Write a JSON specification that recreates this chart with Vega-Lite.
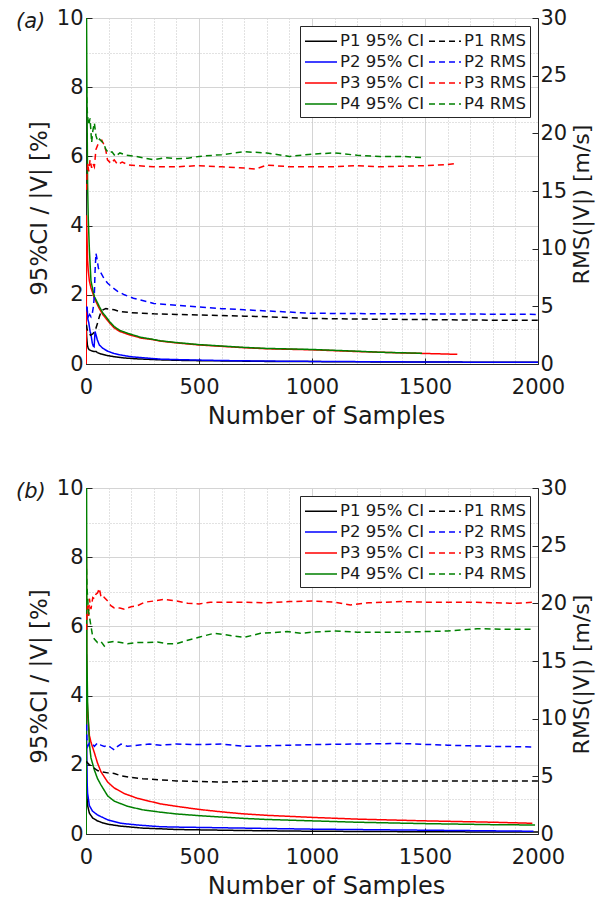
{
"$schema": "https://vega.github.io/schema/vega-lite/v6.json",
"padding": {"left": 15, "top": 6, "right": 2, "bottom": 0},
"config": {
  "font": "DejaVu Sans",
  "view": {"stroke": "#262626", "strokeWidth": 1},
  "axis": {"labelFont": "DejaVu Sans", "titleFont": "DejaVu Sans", "labelFontSize": 21, "titleFontSize": 24, "titleFontWeight": "normal", "labelColor": "#1a1a1a", "titleColor": "#1a1a1a", "domainColor": "#262626", "tickColor": "#262626", "tickSize": -6, "labelOverlap": false, "labelBound": false, "labelFlush": false},
  "legend": {"orient": "top-right", "direction": "horizontal", "columns": 2, "offset": 8, "padding": 4, "strokeColor": "#262626", "fillColor": "#ffffff", "symbolType": "M-1,0H2.2", "symbolSize": 400, "symbolStrokeWidth": 1.5, "labelFont": "DejaVu Sans", "labelFontSize": 16.5, "labelColor": "#1a1a1a", "labelOffset": 14, "columnPadding": 2, "rowPadding": 1, "title": null},
  "line": {"strokeWidth": 1.5, "clip": true}
},
"datasets": {"d": [
{"p":"a","s":"P1 95% CI","n":1,"v":1.15},{"p":"a","s":"P1 95% CI","n":3,"v":0.8},{"p":"a","s":"P1 95% CI","n":6,"v":0.55},{"p":"a","s":"P1 95% CI","n":10,"v":0.45},{"p":"a","s":"P1 95% CI","n":15,"v":0.41},{"p":"a","s":"P1 95% CI","n":25,"v":0.38},{"p":"a","s":"P1 95% CI","n":37,"v":0.36},{"p":"a","s":"P1 95% CI","n":45,"v":0.36},{"p":"a","s":"P1 95% CI","n":50,"v":0.33},{"p":"a","s":"P1 95% CI","n":66,"v":0.29},{"p":"a","s":"P1 95% CI","n":90,"v":0.25},{"p":"a","s":"P1 95% CI","n":125,"v":0.21},{"p":"a","s":"P1 95% CI","n":160,"v":0.18},{"p":"a","s":"P1 95% CI","n":220,"v":0.15},{"p":"a","s":"P1 95% CI","n":330,"v":0.12},{"p":"a","s":"P1 95% CI","n":450,"v":0.1},{"p":"a","s":"P1 95% CI","n":600,"v":0.09},{"p":"a","s":"P1 95% CI","n":800,"v":0.075},{"p":"a","s":"P1 95% CI","n":1000,"v":0.07},{"p":"a","s":"P1 95% CI","n":1300,"v":0.06},{"p":"a","s":"P1 95% CI","n":1600,"v":0.055},{"p":"a","s":"P1 95% CI","n":2000,"v":0.05},
{"p":"a","s":"P2 95% CI","n":1,"v":1.7},{"p":"a","s":"P2 95% CI","n":3,"v":1.5},{"p":"a","s":"P2 95% CI","n":5,"v":1.65},{"p":"a","s":"P2 95% CI","n":8,"v":1.3},{"p":"a","s":"P2 95% CI","n":12,"v":1.2},{"p":"a","s":"P2 95% CI","n":18,"v":0.95},{"p":"a","s":"P2 95% CI","n":22,"v":0.85},{"p":"a","s":"P2 95% CI","n":28,"v":0.6},{"p":"a","s":"P2 95% CI","n":32,"v":0.52},{"p":"a","s":"P2 95% CI","n":36,"v":0.5},{"p":"a","s":"P2 95% CI","n":40,"v":0.94},{"p":"a","s":"P2 95% CI","n":44,"v":0.85},{"p":"a","s":"P2 95% CI","n":50,"v":0.7},{"p":"a","s":"P2 95% CI","n":59,"v":0.55},{"p":"a","s":"P2 95% CI","n":75,"v":0.45},{"p":"a","s":"P2 95% CI","n":96,"v":0.37},{"p":"a","s":"P2 95% CI","n":125,"v":0.3},{"p":"a","s":"P2 95% CI","n":154,"v":0.26},{"p":"a","s":"P2 95% CI","n":200,"v":0.21},{"p":"a","s":"P2 95% CI","n":272,"v":0.17},{"p":"a","s":"P2 95% CI","n":330,"v":0.14},{"p":"a","s":"P2 95% CI","n":450,"v":0.12},{"p":"a","s":"P2 95% CI","n":600,"v":0.1},{"p":"a","s":"P2 95% CI","n":800,"v":0.085},{"p":"a","s":"P2 95% CI","n":1000,"v":0.075},{"p":"a","s":"P2 95% CI","n":1300,"v":0.065},{"p":"a","s":"P2 95% CI","n":1600,"v":0.055},{"p":"a","s":"P2 95% CI","n":2000,"v":0.05},
{"p":"a","s":"P3 95% CI","n":1,"v":0},{"p":"a","s":"P3 95% CI","n":2,"v":4.3},{"p":"a","s":"P3 95% CI","n":4,"v":3.8},{"p":"a","s":"P3 95% CI","n":7,"v":3.0},{"p":"a","s":"P3 95% CI","n":10,"v":2.7},{"p":"a","s":"P3 95% CI","n":15,"v":2.4},{"p":"a","s":"P3 95% CI","n":22,"v":2.2},{"p":"a","s":"P3 95% CI","n":30,"v":2.05},{"p":"a","s":"P3 95% CI","n":37,"v":1.9},{"p":"a","s":"P3 95% CI","n":50,"v":1.72},{"p":"a","s":"P3 95% CI","n":59,"v":1.6},{"p":"a","s":"P3 95% CI","n":75,"v":1.42},{"p":"a","s":"P3 95% CI","n":88,"v":1.32},{"p":"a","s":"P3 95% CI","n":105,"v":1.18},{"p":"a","s":"P3 95% CI","n":125,"v":1.04},{"p":"a","s":"P3 95% CI","n":150,"v":0.94},{"p":"a","s":"P3 95% CI","n":184,"v":0.86},{"p":"a","s":"P3 95% CI","n":243,"v":0.75},{"p":"a","s":"P3 95% CI","n":290,"v":0.71},{"p":"a","s":"P3 95% CI","n":330,"v":0.66},{"p":"a","s":"P3 95% CI","n":400,"v":0.61},{"p":"a","s":"P3 95% CI","n":500,"v":0.55},{"p":"a","s":"P3 95% CI","n":600,"v":0.51},{"p":"a","s":"P3 95% CI","n":700,"v":0.47},{"p":"a","s":"P3 95% CI","n":800,"v":0.44},{"p":"a","s":"P3 95% CI","n":1000,"v":0.41},{"p":"a","s":"P3 95% CI","n":1200,"v":0.36},{"p":"a","s":"P3 95% CI","n":1400,"v":0.32},{"p":"a","s":"P3 95% CI","n":1643,"v":0.28},
{"p":"a","s":"P4 95% CI","n":1,"v":12},{"p":"a","s":"P4 95% CI","n":4,"v":8},{"p":"a","s":"P4 95% CI","n":7,"v":5.2},{"p":"a","s":"P4 95% CI","n":10,"v":4.2},{"p":"a","s":"P4 95% CI","n":15,"v":3.3},{"p":"a","s":"P4 95% CI","n":22,"v":2.4},{"p":"a","s":"P4 95% CI","n":30,"v":2.15},{"p":"a","s":"P4 95% CI","n":37,"v":1.95},{"p":"a","s":"P4 95% CI","n":50,"v":1.78},{"p":"a","s":"P4 95% CI","n":59,"v":1.66},{"p":"a","s":"P4 95% CI","n":75,"v":1.47},{"p":"a","s":"P4 95% CI","n":88,"v":1.37},{"p":"a","s":"P4 95% CI","n":105,"v":1.22},{"p":"a","s":"P4 95% CI","n":125,"v":1.08},{"p":"a","s":"P4 95% CI","n":150,"v":0.97},{"p":"a","s":"P4 95% CI","n":184,"v":0.89},{"p":"a","s":"P4 95% CI","n":243,"v":0.77},{"p":"a","s":"P4 95% CI","n":290,"v":0.72},{"p":"a","s":"P4 95% CI","n":330,"v":0.67},{"p":"a","s":"P4 95% CI","n":400,"v":0.62},{"p":"a","s":"P4 95% CI","n":500,"v":0.56},{"p":"a","s":"P4 95% CI","n":600,"v":0.52},{"p":"a","s":"P4 95% CI","n":700,"v":0.48},{"p":"a","s":"P4 95% CI","n":800,"v":0.45},{"p":"a","s":"P4 95% CI","n":1000,"v":0.42},{"p":"a","s":"P4 95% CI","n":1200,"v":0.37},{"p":"a","s":"P4 95% CI","n":1300,"v":0.34},{"p":"a","s":"P4 95% CI","n":1487,"v":0.31},
{"p":"a","s":"P1 RMS","n":2,"v":3.4},{"p":"a","s":"P1 RMS","n":5,"v":3.0},{"p":"a","s":"P1 RMS","n":10,"v":2.8},{"p":"a","s":"P1 RMS","n":20,"v":2.5},{"p":"a","s":"P1 RMS","n":30,"v":2.6},{"p":"a","s":"P1 RMS","n":37,"v":2.8},{"p":"a","s":"P1 RMS","n":44,"v":3.1},{"p":"a","s":"P1 RMS","n":52,"v":3.6},{"p":"a","s":"P1 RMS","n":59,"v":4.1},{"p":"a","s":"P1 RMS","n":66,"v":4.5},{"p":"a","s":"P1 RMS","n":75,"v":4.7},{"p":"a","s":"P1 RMS","n":88,"v":4.8},{"p":"a","s":"P1 RMS","n":110,"v":4.75},{"p":"a","s":"P1 RMS","n":125,"v":4.7},{"p":"a","s":"P1 RMS","n":150,"v":4.55},{"p":"a","s":"P1 RMS","n":200,"v":4.45},{"p":"a","s":"P1 RMS","n":250,"v":4.4},{"p":"a","s":"P1 RMS","n":300,"v":4.35},{"p":"a","s":"P1 RMS","n":400,"v":4.3},{"p":"a","s":"P1 RMS","n":500,"v":4.25},{"p":"a","s":"P1 RMS","n":600,"v":4.2},{"p":"a","s":"P1 RMS","n":700,"v":4.15},{"p":"a","s":"P1 RMS","n":800,"v":4.1},{"p":"a","s":"P1 RMS","n":1000,"v":3.95},{"p":"a","s":"P1 RMS","n":1200,"v":3.9},{"p":"a","s":"P1 RMS","n":1500,"v":3.85},{"p":"a","s":"P1 RMS","n":1800,"v":3.8},{"p":"a","s":"P1 RMS","n":2000,"v":3.8},
{"p":"a","s":"P2 RMS","n":2,"v":5.0},{"p":"a","s":"P2 RMS","n":5,"v":4.6},{"p":"a","s":"P2 RMS","n":10,"v":4.1},{"p":"a","s":"P2 RMS","n":16,"v":4.3},{"p":"a","s":"P2 RMS","n":22,"v":4.1},{"p":"a","s":"P2 RMS","n":28,"v":4.4},{"p":"a","s":"P2 RMS","n":33,"v":5.0},{"p":"a","s":"P2 RMS","n":37,"v":6.0},{"p":"a","s":"P2 RMS","n":40,"v":8.0},{"p":"a","s":"P2 RMS","n":44,"v":9.6},{"p":"a","s":"P2 RMS","n":48,"v":9.2},{"p":"a","s":"P2 RMS","n":55,"v":8.3},{"p":"a","s":"P2 RMS","n":66,"v":7.9},{"p":"a","s":"P2 RMS","n":80,"v":7.4},{"p":"a","s":"P2 RMS","n":96,"v":7.0},{"p":"a","s":"P2 RMS","n":120,"v":6.6},{"p":"a","s":"P2 RMS","n":140,"v":6.3},{"p":"a","s":"P2 RMS","n":170,"v":6.0},{"p":"a","s":"P2 RMS","n":210,"v":5.7},{"p":"a","s":"P2 RMS","n":250,"v":5.5},{"p":"a","s":"P2 RMS","n":300,"v":5.25},{"p":"a","s":"P2 RMS","n":400,"v":5.1},{"p":"a","s":"P2 RMS","n":500,"v":4.95},{"p":"a","s":"P2 RMS","n":600,"v":4.8},{"p":"a","s":"P2 RMS","n":700,"v":4.7},{"p":"a","s":"P2 RMS","n":850,"v":4.55},{"p":"a","s":"P2 RMS","n":1000,"v":4.4},{"p":"a","s":"P2 RMS","n":1200,"v":4.37},{"p":"a","s":"P2 RMS","n":1500,"v":4.35},{"p":"a","s":"P2 RMS","n":1800,"v":4.32},{"p":"a","s":"P2 RMS","n":2000,"v":4.3},
{"p":"a","s":"P3 RMS","n":2,"v":15.1},{"p":"a","s":"P3 RMS","n":5,"v":16.5},{"p":"a","s":"P3 RMS","n":8,"v":17.4},{"p":"a","s":"P3 RMS","n":12,"v":16.7},{"p":"a","s":"P3 RMS","n":18,"v":17.7},{"p":"a","s":"P3 RMS","n":25,"v":17.0},{"p":"a","s":"P3 RMS","n":30,"v":17.4},{"p":"a","s":"P3 RMS","n":37,"v":17.1},{"p":"a","s":"P3 RMS","n":44,"v":18.6},{"p":"a","s":"P3 RMS","n":52,"v":19.0},{"p":"a","s":"P3 RMS","n":60,"v":19.2},{"p":"a","s":"P3 RMS","n":70,"v":19.4},{"p":"a","s":"P3 RMS","n":80,"v":19.0},{"p":"a","s":"P3 RMS","n":88,"v":18.5},{"p":"a","s":"P3 RMS","n":95,"v":17.7},{"p":"a","s":"P3 RMS","n":110,"v":17.4},{"p":"a","s":"P3 RMS","n":125,"v":17.7},{"p":"a","s":"P3 RMS","n":140,"v":17.3},{"p":"a","s":"P3 RMS","n":160,"v":17.5},{"p":"a","s":"P3 RMS","n":190,"v":17.25},{"p":"a","s":"P3 RMS","n":230,"v":17.2},{"p":"a","s":"P3 RMS","n":300,"v":17.1},{"p":"a","s":"P3 RMS","n":400,"v":17.1},{"p":"a","s":"P3 RMS","n":500,"v":17.2},{"p":"a","s":"P3 RMS","n":600,"v":17.1},{"p":"a","s":"P3 RMS","n":700,"v":17.0},{"p":"a","s":"P3 RMS","n":750,"v":16.9},{"p":"a","s":"P3 RMS","n":800,"v":17.25},{"p":"a","s":"P3 RMS","n":900,"v":17.1},{"p":"a","s":"P3 RMS","n":1000,"v":17.1},{"p":"a","s":"P3 RMS","n":1100,"v":17.1},{"p":"a","s":"P3 RMS","n":1200,"v":17.2},{"p":"a","s":"P3 RMS","n":1300,"v":17.1},{"p":"a","s":"P3 RMS","n":1400,"v":17.15},{"p":"a","s":"P3 RMS","n":1500,"v":17.2},{"p":"a","s":"P3 RMS","n":1600,"v":17.3},{"p":"a","s":"P3 RMS","n":1643,"v":17.4},
{"p":"a","s":"P4 RMS","n":2,"v":24.0},{"p":"a","s":"P4 RMS","n":4,"v":22.5},{"p":"a","s":"P4 RMS","n":7,"v":21.5},{"p":"a","s":"P4 RMS","n":12,"v":20.7},{"p":"a","s":"P4 RMS","n":18,"v":21.3},{"p":"a","s":"P4 RMS","n":25,"v":19.2},{"p":"a","s":"P4 RMS","n":30,"v":20.2},{"p":"a","s":"P4 RMS","n":37,"v":20.9},{"p":"a","s":"P4 RMS","n":44,"v":19.8},{"p":"a","s":"P4 RMS","n":52,"v":19.3},{"p":"a","s":"P4 RMS","n":60,"v":19.5},{"p":"a","s":"P4 RMS","n":70,"v":19.3},{"p":"a","s":"P4 RMS","n":80,"v":19.0},{"p":"a","s":"P4 RMS","n":88,"v":18.6},{"p":"a","s":"P4 RMS","n":100,"v":18.3},{"p":"a","s":"P4 RMS","n":115,"v":18.4},{"p":"a","s":"P4 RMS","n":130,"v":18.0},{"p":"a","s":"P4 RMS","n":150,"v":18.3},{"p":"a","s":"P4 RMS","n":180,"v":18.1},{"p":"a","s":"P4 RMS","n":220,"v":18.0},{"p":"a","s":"P4 RMS","n":300,"v":17.7},{"p":"a","s":"P4 RMS","n":350,"v":17.9},{"p":"a","s":"P4 RMS","n":400,"v":17.8},{"p":"a","s":"P4 RMS","n":450,"v":17.85},{"p":"a","s":"P4 RMS","n":500,"v":18.0},{"p":"a","s":"P4 RMS","n":600,"v":18.15},{"p":"a","s":"P4 RMS","n":700,"v":18.4},{"p":"a","s":"P4 RMS","n":800,"v":18.3},{"p":"a","s":"P4 RMS","n":900,"v":18.0},{"p":"a","s":"P4 RMS","n":1000,"v":18.2},{"p":"a","s":"P4 RMS","n":1100,"v":18.3},{"p":"a","s":"P4 RMS","n":1200,"v":18.1},{"p":"a","s":"P4 RMS","n":1300,"v":18.0},{"p":"a","s":"P4 RMS","n":1400,"v":18.0},{"p":"a","s":"P4 RMS","n":1487,"v":17.9},
{"p":"b","s":"P1 95% CI","n":1,"v":0},{"p":"b","s":"P1 95% CI","n":2,"v":2.5},{"p":"b","s":"P1 95% CI","n":3,"v":1.4},{"p":"b","s":"P1 95% CI","n":5,"v":1.0},{"p":"b","s":"P1 95% CI","n":8,"v":0.8},{"p":"b","s":"P1 95% CI","n":15,"v":0.6},{"p":"b","s":"P1 95% CI","n":30,"v":0.46},{"p":"b","s":"P1 95% CI","n":50,"v":0.38},{"p":"b","s":"P1 95% CI","n":75,"v":0.32},{"p":"b","s":"P1 95% CI","n":100,"v":0.28},{"p":"b","s":"P1 95% CI","n":150,"v":0.23},{"p":"b","s":"P1 95% CI","n":250,"v":0.17},{"p":"b","s":"P1 95% CI","n":330,"v":0.15},{"p":"b","s":"P1 95% CI","n":400,"v":0.13},{"p":"b","s":"P1 95% CI","n":500,"v":0.12},{"p":"b","s":"P1 95% CI","n":700,"v":0.1},{"p":"b","s":"P1 95% CI","n":1000,"v":0.08},{"p":"b","s":"P1 95% CI","n":1500,"v":0.065},{"p":"b","s":"P1 95% CI","n":2000,"v":0.055},
{"p":"b","s":"P2 95% CI","n":1,"v":0},{"p":"b","s":"P2 95% CI","n":2,"v":5.2},{"p":"b","s":"P2 95% CI","n":3,"v":2.3},{"p":"b","s":"P2 95% CI","n":5,"v":1.5},{"p":"b","s":"P2 95% CI","n":7,"v":1.18},{"p":"b","s":"P2 95% CI","n":15,"v":0.82},{"p":"b","s":"P2 95% CI","n":29,"v":0.66},{"p":"b","s":"P2 95% CI","n":51,"v":0.55},{"p":"b","s":"P2 95% CI","n":96,"v":0.41},{"p":"b","s":"P2 95% CI","n":154,"v":0.31},{"p":"b","s":"P2 95% CI","n":228,"v":0.26},{"p":"b","s":"P2 95% CI","n":330,"v":0.21},{"p":"b","s":"P2 95% CI","n":400,"v":0.2},{"p":"b","s":"P2 95% CI","n":500,"v":0.19},{"p":"b","s":"P2 95% CI","n":700,"v":0.17},{"p":"b","s":"P2 95% CI","n":1000,"v":0.14},{"p":"b","s":"P2 95% CI","n":1500,"v":0.11},{"p":"b","s":"P2 95% CI","n":1980,"v":0.08},
{"p":"b","s":"P3 95% CI","n":1,"v":0},{"p":"b","s":"P3 95% CI","n":2,"v":8.0},{"p":"b","s":"P3 95% CI","n":3,"v":5.2},{"p":"b","s":"P3 95% CI","n":5,"v":4.0},{"p":"b","s":"P3 95% CI","n":7,"v":3.5},{"p":"b","s":"P3 95% CI","n":15,"v":2.85},{"p":"b","s":"P3 95% CI","n":22,"v":2.65},{"p":"b","s":"P3 95% CI","n":37,"v":2.35},{"p":"b","s":"P3 95% CI","n":51,"v":2.05},{"p":"b","s":"P3 95% CI","n":66,"v":1.8},{"p":"b","s":"P3 95% CI","n":96,"v":1.5},{"p":"b","s":"P3 95% CI","n":125,"v":1.33},{"p":"b","s":"P3 95% CI","n":169,"v":1.17},{"p":"b","s":"P3 95% CI","n":228,"v":1.03},{"p":"b","s":"P3 95% CI","n":330,"v":0.87},{"p":"b","s":"P3 95% CI","n":400,"v":0.8},{"p":"b","s":"P3 95% CI","n":500,"v":0.71},{"p":"b","s":"P3 95% CI","n":600,"v":0.64},{"p":"b","s":"P3 95% CI","n":700,"v":0.58},{"p":"b","s":"P3 95% CI","n":800,"v":0.54},{"p":"b","s":"P3 95% CI","n":1000,"v":0.48},{"p":"b","s":"P3 95% CI","n":1200,"v":0.43},{"p":"b","s":"P3 95% CI","n":1500,"v":0.38},{"p":"b","s":"P3 95% CI","n":1800,"v":0.34},{"p":"b","s":"P3 95% CI","n":1975,"v":0.31},
{"p":"b","s":"P4 95% CI","n":1,"v":0},{"p":"b","s":"P4 95% CI","n":2,"v":12},{"p":"b","s":"P4 95% CI","n":4,"v":5.2},{"p":"b","s":"P4 95% CI","n":7,"v":3.8},{"p":"b","s":"P4 95% CI","n":15,"v":2.6},{"p":"b","s":"P4 95% CI","n":22,"v":2.2},{"p":"b","s":"P4 95% CI","n":37,"v":1.85},{"p":"b","s":"P4 95% CI","n":51,"v":1.6},{"p":"b","s":"P4 95% CI","n":66,"v":1.42},{"p":"b","s":"P4 95% CI","n":96,"v":1.1},{"p":"b","s":"P4 95% CI","n":125,"v":0.95},{"p":"b","s":"P4 95% CI","n":184,"v":0.8},{"p":"b","s":"P4 95% CI","n":250,"v":0.7},{"p":"b","s":"P4 95% CI","n":330,"v":0.63},{"p":"b","s":"P4 95% CI","n":400,"v":0.58},{"p":"b","s":"P4 95% CI","n":500,"v":0.53},{"p":"b","s":"P4 95% CI","n":600,"v":0.49},{"p":"b","s":"P4 95% CI","n":700,"v":0.45},{"p":"b","s":"P4 95% CI","n":800,"v":0.42},{"p":"b","s":"P4 95% CI","n":1000,"v":0.38},{"p":"b","s":"P4 95% CI","n":1200,"v":0.34},{"p":"b","s":"P4 95% CI","n":1500,"v":0.3},{"p":"b","s":"P4 95% CI","n":1800,"v":0.27},{"p":"b","s":"P4 95% CI","n":1987,"v":0.26},
{"p":"b","s":"P1 RMS","n":2,"v":6.3},{"p":"b","s":"P1 RMS","n":5,"v":6.2},{"p":"b","s":"P1 RMS","n":10,"v":6.1},{"p":"b","s":"P1 RMS","n":15,"v":6.0},{"p":"b","s":"P1 RMS","n":25,"v":5.9},{"p":"b","s":"P1 RMS","n":37,"v":5.7},{"p":"b","s":"P1 RMS","n":51,"v":5.5},{"p":"b","s":"P1 RMS","n":66,"v":5.4},{"p":"b","s":"P1 RMS","n":96,"v":5.3},{"p":"b","s":"P1 RMS","n":125,"v":5.25},{"p":"b","s":"P1 RMS","n":154,"v":5.05},{"p":"b","s":"P1 RMS","n":200,"v":4.9},{"p":"b","s":"P1 RMS","n":250,"v":4.8},{"p":"b","s":"P1 RMS","n":330,"v":4.7},{"p":"b","s":"P1 RMS","n":400,"v":4.6},{"p":"b","s":"P1 RMS","n":500,"v":4.55},{"p":"b","s":"P1 RMS","n":600,"v":4.5},{"p":"b","s":"P1 RMS","n":700,"v":4.55},{"p":"b","s":"P1 RMS","n":800,"v":4.6},{"p":"b","s":"P1 RMS","n":1000,"v":4.6},{"p":"b","s":"P1 RMS","n":1200,"v":4.6},{"p":"b","s":"P1 RMS","n":1500,"v":4.6},{"p":"b","s":"P1 RMS","n":1800,"v":4.6},{"p":"b","s":"P1 RMS","n":2000,"v":4.6},
{"p":"b","s":"P2 RMS","n":2,"v":9.5},{"p":"b","s":"P2 RMS","n":4,"v":8.2},{"p":"b","s":"P2 RMS","n":8,"v":7.6},{"p":"b","s":"P2 RMS","n":15,"v":7.9},{"p":"b","s":"P2 RMS","n":29,"v":7.8},{"p":"b","s":"P2 RMS","n":37,"v":7.6},{"p":"b","s":"P2 RMS","n":51,"v":7.9},{"p":"b","s":"P2 RMS","n":66,"v":7.7},{"p":"b","s":"P2 RMS","n":81,"v":7.6},{"p":"b","s":"P2 RMS","n":96,"v":7.7},{"p":"b","s":"P2 RMS","n":110,"v":7.5},{"p":"b","s":"P2 RMS","n":125,"v":7.3},{"p":"b","s":"P2 RMS","n":140,"v":7.6},{"p":"b","s":"P2 RMS","n":155,"v":7.8},{"p":"b","s":"P2 RMS","n":184,"v":7.6},{"p":"b","s":"P2 RMS","n":228,"v":7.7},{"p":"b","s":"P2 RMS","n":280,"v":7.8},{"p":"b","s":"P2 RMS","n":330,"v":7.7},{"p":"b","s":"P2 RMS","n":400,"v":7.8},{"p":"b","s":"P2 RMS","n":500,"v":7.75},{"p":"b","s":"P2 RMS","n":600,"v":7.8},{"p":"b","s":"P2 RMS","n":700,"v":7.6},{"p":"b","s":"P2 RMS","n":800,"v":7.65},{"p":"b","s":"P2 RMS","n":900,"v":7.7},{"p":"b","s":"P2 RMS","n":1000,"v":7.75},{"p":"b","s":"P2 RMS","n":1200,"v":7.8},{"p":"b","s":"P2 RMS","n":1390,"v":7.85},{"p":"b","s":"P2 RMS","n":1600,"v":7.7},{"p":"b","s":"P2 RMS","n":1800,"v":7.6},{"p":"b","s":"P2 RMS","n":1980,"v":7.55},
{"p":"b","s":"P3 RMS","n":2,"v":17.7},{"p":"b","s":"P3 RMS","n":4,"v":19.2},{"p":"b","s":"P3 RMS","n":7,"v":19.8},{"p":"b","s":"P3 RMS","n":12,"v":18.9},{"p":"b","s":"P3 RMS","n":15,"v":20.4},{"p":"b","s":"P3 RMS","n":22,"v":19.5},{"p":"b","s":"P3 RMS","n":30,"v":20.5},{"p":"b","s":"P3 RMS","n":37,"v":20.4},{"p":"b","s":"P3 RMS","n":44,"v":20.8},{"p":"b","s":"P3 RMS","n":51,"v":20.9},{"p":"b","s":"P3 RMS","n":59,"v":21.3},{"p":"b","s":"P3 RMS","n":66,"v":20.6},{"p":"b","s":"P3 RMS","n":75,"v":20.7},{"p":"b","s":"P3 RMS","n":81,"v":20.5},{"p":"b","s":"P3 RMS","n":96,"v":20.2},{"p":"b","s":"P3 RMS","n":110,"v":19.8},{"p":"b","s":"P3 RMS","n":125,"v":19.6},{"p":"b","s":"P3 RMS","n":150,"v":19.6},{"p":"b","s":"P3 RMS","n":169,"v":19.5},{"p":"b","s":"P3 RMS","n":200,"v":19.7},{"p":"b","s":"P3 RMS","n":228,"v":19.8},{"p":"b","s":"P3 RMS","n":260,"v":20.1},{"p":"b","s":"P3 RMS","n":300,"v":20.2},{"p":"b","s":"P3 RMS","n":346,"v":20.35},{"p":"b","s":"P3 RMS","n":400,"v":20.2},{"p":"b","s":"P3 RMS","n":450,"v":20.0},{"p":"b","s":"P3 RMS","n":500,"v":19.95},{"p":"b","s":"P3 RMS","n":550,"v":20.1},{"p":"b","s":"P3 RMS","n":600,"v":20.1},{"p":"b","s":"P3 RMS","n":700,"v":20.1},{"p":"b","s":"P3 RMS","n":800,"v":20.05},{"p":"b","s":"P3 RMS","n":900,"v":20.15},{"p":"b","s":"P3 RMS","n":1000,"v":20.2},{"p":"b","s":"P3 RMS","n":1100,"v":20.1},{"p":"b","s":"P3 RMS","n":1170,"v":19.85},{"p":"b","s":"P3 RMS","n":1250,"v":20.05},{"p":"b","s":"P3 RMS","n":1400,"v":20.15},{"p":"b","s":"P3 RMS","n":1500,"v":20.1},{"p":"b","s":"P3 RMS","n":1600,"v":20.1},{"p":"b","s":"P3 RMS","n":1700,"v":20.1},{"p":"b","s":"P3 RMS","n":1800,"v":20.05},{"p":"b","s":"P3 RMS","n":1900,"v":20.0},{"p":"b","s":"P3 RMS","n":1980,"v":20.1},
{"p":"b","s":"P4 RMS","n":2,"v":23},{"p":"b","s":"P4 RMS","n":4,"v":21.5},{"p":"b","s":"P4 RMS","n":7,"v":20.6},{"p":"b","s":"P4 RMS","n":10,"v":19.5},{"p":"b","s":"P4 RMS","n":15,"v":18.9},{"p":"b","s":"P4 RMS","n":22,"v":18.0},{"p":"b","s":"P4 RMS","n":29,"v":17.2},{"p":"b","s":"P4 RMS","n":37,"v":16.9},{"p":"b","s":"P4 RMS","n":51,"v":16.6},{"p":"b","s":"P4 RMS","n":66,"v":16.7},{"p":"b","s":"P4 RMS","n":81,"v":16.3},{"p":"b","s":"P4 RMS","n":96,"v":16.6},{"p":"b","s":"P4 RMS","n":125,"v":16.7},{"p":"b","s":"P4 RMS","n":154,"v":16.6},{"p":"b","s":"P4 RMS","n":184,"v":16.5},{"p":"b","s":"P4 RMS","n":228,"v":16.6},{"p":"b","s":"P4 RMS","n":270,"v":16.6},{"p":"b","s":"P4 RMS","n":316,"v":16.65},{"p":"b","s":"P4 RMS","n":360,"v":16.5},{"p":"b","s":"P4 RMS","n":400,"v":16.5},{"p":"b","s":"P4 RMS","n":450,"v":16.8},{"p":"b","s":"P4 RMS","n":507,"v":17.1},{"p":"b","s":"P4 RMS","n":566,"v":17.4},{"p":"b","s":"P4 RMS","n":625,"v":17.25},{"p":"b","s":"P4 RMS","n":700,"v":17.05},{"p":"b","s":"P4 RMS","n":772,"v":17.4},{"p":"b","s":"P4 RMS","n":890,"v":17.55},{"p":"b","s":"P4 RMS","n":950,"v":17.4},{"p":"b","s":"P4 RMS","n":1000,"v":17.5},{"p":"b","s":"P4 RMS","n":1100,"v":17.6},{"p":"b","s":"P4 RMS","n":1200,"v":17.5},{"p":"b","s":"P4 RMS","n":1390,"v":17.5},{"p":"b","s":"P4 RMS","n":1500,"v":17.55},{"p":"b","s":"P4 RMS","n":1600,"v":17.6},{"p":"b","s":"P4 RMS","n":1730,"v":17.8},{"p":"b","s":"P4 RMS","n":1850,"v":17.75},{"p":"b","s":"P4 RMS","n":1980,"v":17.75}
]},
"spacing": 47,
"resolve": {"scale": {"color": "independent", "strokeDash": "independent"}},
"vconcat": [
{
  "width": 452, "height": 346,
  "title": {"text": "(a)", "anchor": "start", "frame": "group", "offset": -25, "dx": -70, "fontSize": 21, "fontStyle": "italic", "fontWeight": "normal", "font": "DejaVu Sans", "color": "#1a1a1a"},
  "data": {"name": "d"},
  "transform": [{"filter": "datum.p === 'a'"}],
  "encoding": {
    "x": {"field": "n", "type": "quantitative", "title": "Number of Samples", "scale": {"domain": [0, 2000], "nice": false},
          "axis": {"values": [0,100,200,300,400,500,600,700,800,900,1000,1100,1200,1300,1400,1500,1600,1700,1800,1900,2000], "format": "d", "labelOverlap": false, "labelExpr": "datum.value % 500 === 0 ? datum.label : ''", "tickOpacity": {"condition": {"test": "datum.value % 500 === 0", "value": 1}, "value": 0}, "grid": true, "gridDash": {"condition": {"test": "datum.value % 500 === 0", "value": []}, "value": [1, 2]}, "gridColor": {"condition": {"test": "datum.value % 500 === 0", "value": "#d4d4d4"}, "value": "#c4c4c4"}, "gridWidth": 1, "labelPadding": 18, "titlePadding": 7, "titleX": 240}},
    "color": {"field": "s", "type": "nominal", "scale": {"domain": ["P1 95% CI","P1 RMS","P2 95% CI","P2 RMS","P3 95% CI","P3 RMS","P4 95% CI","P4 RMS"], "range": ["#000000","#000000","#0000ff","#0000ff","#ff0000","#ff0000","#008000","#008000"]}, "legend": {"title": null}},
    "strokeDash": {"field": "s", "type": "nominal", "scale": {"domain": ["P1 95% CI","P1 RMS","P2 95% CI","P2 RMS","P3 95% CI","P3 RMS","P4 95% CI","P4 RMS"], "range": [[1,0],[6,4],[1,0],[6,4],[1,0],[6,4],[1,0],[6,4]]}, "legend": {"title": null}}
  },
  "layer": [
    {"transform": [{"filter": "indexof(datum.s, 'CI') >= 0"}],
     "mark": {"type": "line", "clip": true},
     "encoding": {
       "y": {"field": "v", "type": "quantitative", "title": "95%CI / |V| [%]", "scale": {"domain": [0, 10], "nice": false},
             "axis": {"values": [0,0.5,1,1.5,2,2.5,3,3.5,4,4.5,5,5.5,6,6.5,7,7.5,8,8.5,9,9.5,10], "format": "d", "labelOverlap": false, "labelExpr": "datum.value % 2 === 0 ? datum.label : ''", "tickOpacity": {"condition": {"test": "datum.value % 2 === 0", "value": 1}, "value": 0}, "grid": true, "gridDash": {"condition": {"test": "datum.value % 2 === 0", "value": []}, "value": [1, 2]}, "gridColor": {"condition": {"test": "datum.value % 2 === 0", "value": "#d4d4d4"}, "value": "#c4c4c4"}, "labelPadding": 9, "titlePadding": 5, "titleFontSize": 23, "titleY": 190}}
     }},
    {"transform": [{"filter": "indexof(datum.s, 'RMS') >= 0"}],
     "mark": {"type": "line", "clip": true},
     "encoding": {
       "y": {"field": "v", "type": "quantitative", "title": "RMS(|V|) [m/s]", "scale": {"domain": [0, 30], "nice": false},
             "axis": {"orient": "right", "values": [0,5,10,15,20,25,30], "labelOverlap": false, "grid": false, "labelPadding": 8, "titlePadding": 5, "titleAngle": 270, "titleBaseline": "top", "titleFontSize": 22, "titleY": 186}}
     }}
  ],
  "resolve": {"scale": {"y": "independent"}}
},
{
  "width": 452, "height": 346,
  "title": {"text": "(b)", "anchor": "start", "frame": "group", "offset": -25, "dx": -70, "fontSize": 21, "fontStyle": "italic", "fontWeight": "normal", "font": "DejaVu Sans", "color": "#1a1a1a"},
  "data": {"name": "d"},
  "transform": [{"filter": "datum.p === 'b'"}],
  "encoding": {
    "x": {"field": "n", "type": "quantitative", "title": "Number of Samples", "scale": {"domain": [0, 2000], "nice": false},
          "axis": {"values": [0,100,200,300,400,500,600,700,800,900,1000,1100,1200,1300,1400,1500,1600,1700,1800,1900,2000], "format": "d", "labelOverlap": false, "labelExpr": "datum.value % 500 === 0 ? datum.label : ''", "tickOpacity": {"condition": {"test": "datum.value % 500 === 0", "value": 1}, "value": 0}, "grid": true, "gridDash": {"condition": {"test": "datum.value % 500 === 0", "value": []}, "value": [1, 2]}, "gridColor": {"condition": {"test": "datum.value % 500 === 0", "value": "#d4d4d4"}, "value": "#c4c4c4"}, "gridWidth": 1, "labelPadding": 18, "titlePadding": 7, "titleX": 240}},
    "color": {"field": "s", "type": "nominal", "scale": {"domain": ["P1 95% CI","P1 RMS","P2 95% CI","P2 RMS","P3 95% CI","P3 RMS","P4 95% CI","P4 RMS"], "range": ["#000000","#000000","#0000ff","#0000ff","#ff0000","#ff0000","#008000","#008000"]}, "legend": {"title": null}},
    "strokeDash": {"field": "s", "type": "nominal", "scale": {"domain": ["P1 95% CI","P1 RMS","P2 95% CI","P2 RMS","P3 95% CI","P3 RMS","P4 95% CI","P4 RMS"], "range": [[1,0],[6,4],[1,0],[6,4],[1,0],[6,4],[1,0],[6,4]]}, "legend": {"title": null}}
  },
  "layer": [
    {"transform": [{"filter": "indexof(datum.s, 'CI') >= 0"}],
     "mark": {"type": "line", "clip": true},
     "encoding": {
       "y": {"field": "v", "type": "quantitative", "title": "95%CI / |V| [%]", "scale": {"domain": [0, 10], "nice": false},
             "axis": {"values": [0,0.5,1,1.5,2,2.5,3,3.5,4,4.5,5,5.5,6,6.5,7,7.5,8,8.5,9,9.5,10], "format": "d", "labelOverlap": false, "labelExpr": "datum.value % 2 === 0 ? datum.label : ''", "tickOpacity": {"condition": {"test": "datum.value % 2 === 0", "value": 1}, "value": 0}, "grid": true, "gridDash": {"condition": {"test": "datum.value % 2 === 0", "value": []}, "value": [1, 2]}, "gridColor": {"condition": {"test": "datum.value % 2 === 0", "value": "#d4d4d4"}, "value": "#c4c4c4"}, "labelPadding": 9, "titlePadding": 5, "titleFontSize": 23, "titleY": 188}}
     }},
    {"transform": [{"filter": "indexof(datum.s, 'RMS') >= 0"}],
     "mark": {"type": "line", "clip": true},
     "encoding": {
       "y": {"field": "v", "type": "quantitative", "title": "RMS(|V|) [m/s]", "scale": {"domain": [0, 30], "nice": false},
             "axis": {"orient": "right", "values": [0,5,10,15,20,25,30], "labelOverlap": false, "grid": false, "labelPadding": 8, "titlePadding": 5, "titleAngle": 270, "titleBaseline": "top", "titleFontSize": 22, "titleY": 186}}
     }}
  ],
  "resolve": {"scale": {"y": "independent"}}
}
]
}
